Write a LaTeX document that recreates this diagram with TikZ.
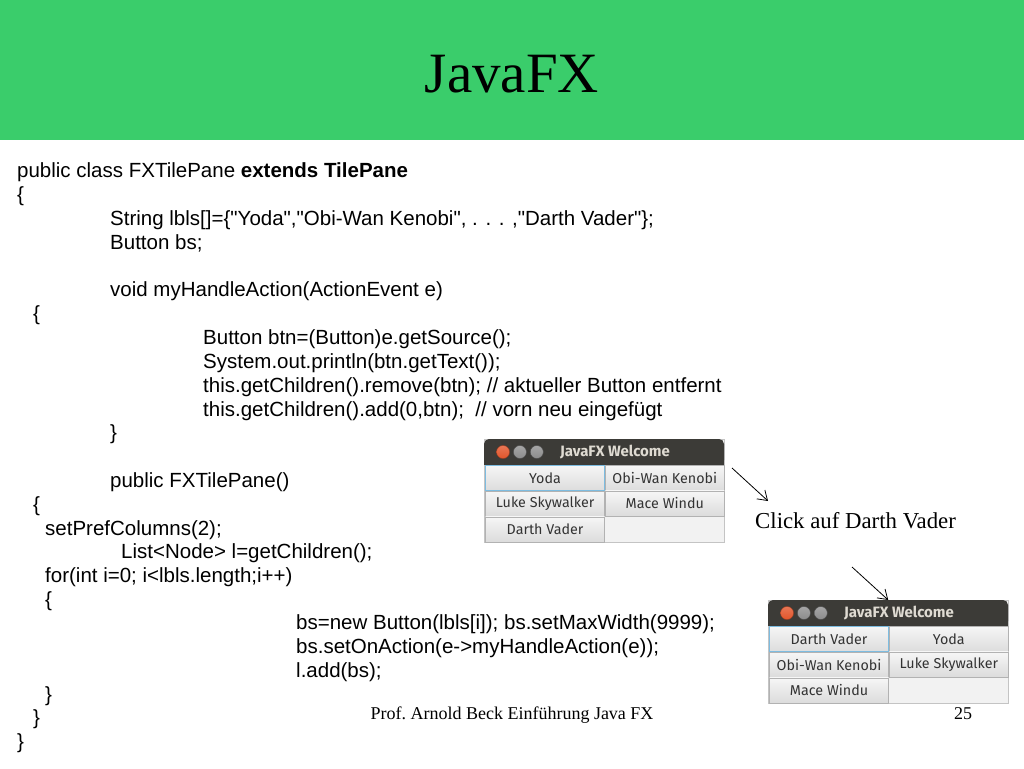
\documentclass[tikz,border=0pt]{standalone}
\usepackage{fontspec}
\setmainfont{Liberation Serif}
\newfontfamily\codefont{Liberation Sans}
\newfontfamily\guifont{Fira Sans}
\usetikzlibrary{arrows.meta, positioning}
\definecolor{slidegreen}{HTML}{3ACD6B}
\definecolor{fxbarcol}{HTML}{3C3B37}
\definecolor{fxbartext}{HTML}{DFDBD2}
\definecolor{fxbody}{HTML}{F2F2F2}
\definecolor{fxframe}{HTML}{C4C4C4}
\definecolor{fxbtnline}{HTML}{B2B2B2}
\definecolor{fxbtntop}{HTML}{F6F6F6}
\definecolor{fxbtnbot}{HTML}{DCDCDC}
\definecolor{fxbtntext}{HTML}{333333}
\definecolor{fxfocusline}{HTML}{7DBCE0}
\definecolor{fxred}{HTML}{E2552B}
\tikzset{
  fxarrow/.style={-{Straight Barb[length=9pt, width=12pt]}, thick},
  fxcode/.style={anchor=base west, inner sep=0pt, font=\codefont\fontsize{20.5}{24}\selectfont},
  fxwin/.style={rectangle, draw=fxframe, fill=fxbody, minimum width=240pt, minimum height=103pt, anchor=north west, inner sep=0pt},
  fxtitle/.style={inner sep=0pt, text=fxbartext, font=\guifont\bfseries\fontsize{15}{17}\selectfont},
  fxclose/.style={circle, draw=fxred!70!black, inner sep=0pt, minimum size=13pt, top color=fxred!80!white, bottom color=fxred},
  fxknob/.style={circle, draw=gray!60!black, inner sep=0pt, minimum size=13pt, top color=gray!70, bottom color=gray!110!black},
  fxbtn/.style={rectangle, draw=fxbtnline, top color=fxbtntop, bottom color=fxbtnbot, minimum width=119pt, minimum height=25pt, inner sep=0pt, text=fxbtntext, font=\guifont\fontsize{14.3}{16}\selectfont},
  fxfocus/.style={fxbtn, draw=fxfocusline, line width=1.1pt},
}

\begin{document}
\begin{tikzpicture}[x=1pt, y=-1pt]
  \useasboundingbox (0,0) rectangle (1024,768);
  \fill[white] (0,0) rectangle (1024,768);

  % Slide head and foot.
  \fill[slidegreen] (0,0) rectangle (1024,140);
  \node[anchor=base, inner sep=0pt, font=\fontsize{57}{60}\selectfont] (title) at (512,92) {JavaFX};
  \node[anchor=base, inner sep=0pt, font=\fontsize{18}{20}\selectfont] (foot) at (512,719) {Prof.\ Arnold Beck Einführung Java FX};
  \node[anchor=base, inner sep=0pt, font=\fontsize{18}{20}\selectfont] (page) at (963,719) {25};

  % Code listing.
  \node[fxcode] (cls) at (17,177) {public class FXTilePane \textbf{extends TilePane}};
  \node[fxcode] (ob1) at (17,201) {\{};
  \node[fxcode] (lbls) at (110,225) {String lbls[]=\{"Yoda","Obi-Wan Kenobi", . . . ,"Darth Vader"\};};
  \node[fxcode] (bs) at (110,249) {Button bs;};
  \node[fxcode] (hdl) at (110,296) {void myHandleAction(ActionEvent e)};
  \node[fxcode] (ob2) at (33,320) {\{};
  \node[fxcode] (btn) at (203,344) {Button btn=(Button)e.getSource();};
  \node[fxcode] (prt) at (203,368) {System.out.println(btn.getText());};
  \node[fxcode] (rem) at (203,392) {this.getChildren().remove(btn); // aktueller Button entfernt};
  \node[fxcode] (ins) at (203,416) {this.getChildren().add(0,btn);\ \ // vorn neu eingefügt};
  \node[fxcode] (cb1) at (110,439) {\}};
  \node[fxcode] (ctor) at (110,487) {public FXTilePane()};
  \node[fxcode] (ob3) at (33,511) {\{};
  \node[fxcode] (cols) at (45,535) {setPrefColumns(2);};
  \node[fxcode] (lst) at (121,558) {List<Node> l=getChildren();};
  \node[fxcode] (loop) at (45,582) {for(int i=0; i<lbls.length;i++)};
  \node[fxcode] (ob4) at (45,606) {\{};
  \node[fxcode] (mk) at (296,629) {bs=new Button(lbls[i]); bs.setMaxWidth(9999);};
  \node[fxcode] (act) at (296,653) {bs.setOnAction(e->myHandleAction(e));};
  \node[fxcode] (ladd) at (296,677) {l.add(bs);};
  \node[fxcode] (cb2) at (45,701) {\}};
  \node[fxcode] (cb3) at (33,724) {\}};
  \node[fxcode] (cb4) at (17,748) {\}};

  % Window before the click.
  \node[fxwin] (win1) at (484,439) {};
  \fill[fxbarcol, rounded corners=5pt] (484,439) rectangle (724,465);
  \fill[fxbarcol] (484,452) rectangle (724,465);
  \node[fxclose] (x1) at (503,452) {};
  \node[fxknob, right=3.5pt of x1] (min1) {};
  \node[fxknob, right=3.5pt of min1] (max1) {};
  \node[fxtitle] (t1) at (615,452) {JavaFX Welcome};
  \node[fxfocus, anchor=north west] (yoda1) at (485,465) {Yoda};
  \node[fxbtn, right=0pt of yoda1] (obi1) {Obi-Wan Kenobi};
  \node[fxbtn, below=0pt of yoda1] (luke1) {Luke Skywalker};
  \node[fxbtn, below=0pt of obi1] (mace1) {Mace Windu};
  \node[fxbtn, below=0pt of luke1] (vader1) {Darth Vader};

  % Window after the click.
  \node[fxwin] (win2) at (768,600) {};
  \fill[fxbarcol, rounded corners=5pt] (768,600) rectangle (1008,626);
  \fill[fxbarcol] (768,613) rectangle (1008,626);
  \node[fxclose] (x2) at (787,613) {};
  \node[fxknob, right=3.5pt of x2] (min2) {};
  \node[fxknob, right=3.5pt of min2] (max2) {};
  \node[fxtitle] (t2) at (899,613) {JavaFX Welcome};
  \node[fxfocus, anchor=north west] (vader2) at (769,626) {Darth Vader};
  \node[fxbtn, right=0pt of vader2] (yoda2) {Yoda};
  \node[fxbtn, below=0pt of vader2] (obi2) {Obi-Wan Kenobi};
  \node[fxbtn, below=0pt of yoda2] (luke2) {Luke Skywalker};
  \node[fxbtn, below=0pt of obi2] (mace2) {Mace Windu};

  % Hint and arrows.
  \node[anchor=base west, inner sep=0pt, font=\fontsize{22.8}{25}\selectfont] (click) at (755,528) {Click auf Darth Vader};
  \coordinate (from1) at (732,468);
  \coordinate (to1) at (768,501);
  \coordinate (from2) at (852,567);
  \draw[fxarrow] (from1) -- (to1);
  \draw[fxarrow] (from2) -- (win2.north);
\end{tikzpicture}
\end{document}
